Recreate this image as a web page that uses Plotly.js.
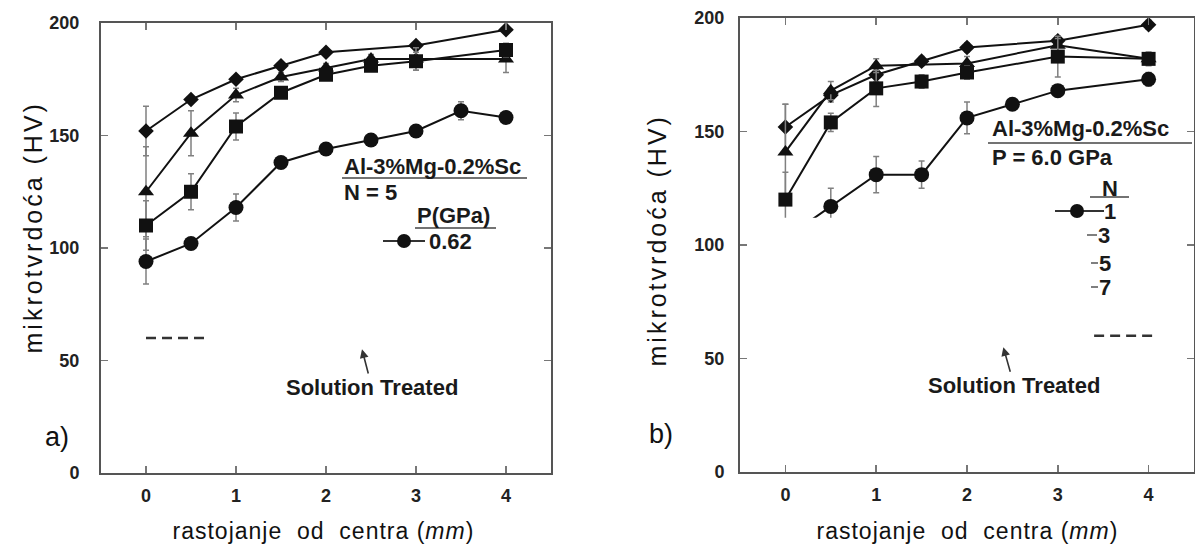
<!DOCTYPE html>
<html>
<head>
<meta charset="utf-8">
<script src="https://cdn.plot.ly/plotly-3.0.1.min.js"></script>
<style>html,body{margin:0;padding:0;background:#fff;}#chart{width:1195px;height:544px;}</style>
</head>
<body>
<div id="chart"></div>
<script>
// ---------- data: panel a) Al-3%Mg-0.2%Sc, N = 5 ----------
const aDiamondX = [0, 0.5, 1, 1.5, 2, 3, 4];
const aDiamondY = [152, 166, 175, 181, 187, 190, 197];
const aDiamondErr = [11, 0, 0, 0, 0, 0, 0];

const aTriangleX = [0, 0.5, 1, 1.5, 2, 2.5, 3, 4];
const aTriangleY = [125, 151, 168, 176, 180, 184, 184, 184];
const aTriangleErr = [20, 10, 3, 2, 2, 2, 5, 6];

const aSquareX = [0, 0.5, 1, 1.5, 2, 2.5, 3, 4];
const aSquareY = [110, 125, 154, 169, 177, 181, 183, 188];
const aSquareErr = [11, 8, 6, 2, 2, 2, 4, 3];

const aCircleX = [0, 0.5, 1, 1.5, 2, 2.5, 3, 3.5, 4];
const aCircleY = [94, 102, 118, 138, 144, 148, 152, 161, 158];
const aCircleErr = [10, 2, 6, 2, 2, 2, 2, 4, 2];

// ---------- data: panel b) Al-3%Mg-0.2%Sc, P = 6.0 GPa ----------
const bDiamondX = [0, 0.5, 1, 1.5, 2, 3, 4];
const bDiamondY = [152, 166, 175, 181, 187, 190, 197];
const bDiamondErr = [10, 3, 3, 2, 2, 2, 2];

const bTriangleX = [0, 0.5, 1, 2, 3, 4];
const bTriangleY = [141, 168, 179, 180, 188, 182];
const bTriangleErr = [21, 4, 3, 3, 3, 2];

const bSquareX = [0, 0.5, 1, 1.5, 2, 3, 4];
const bSquareY = [120, 154, 169, 172, 176, 183, 182];
const bSquareErr = [12, 4, 8, 3, 3, 9, 3];

const bCircleX = [0, 0.5, 1, 1.5, 2, 2.5, 3, 4];
const bCircleY = [103, 117, 131, 131, 156, 162, 168, 173];
const bCircleErr = [5, 8, 8, 6, 7, 2, 2, 3];

// solution treated hardness (dashed reference)
const solutionTreatedHV = 60;
const aSolutionX = [0, 0.65];
const bSolutionX = [3.4, 4.05];

// axis ticks
const xTicks = [0, 1, 2, 3, 4];
const yTicks = [0, 50, 100, 150, 200];

// ---------- helpers ----------
const W = 1195, H = 544;
const PX = v => v / W;
const PY = v => 1 - v / H;
const FONT = 'Liberation Sans, Arial, Helvetica, sans-serif';

function series(x, y, err, symbol, size, xa, ya) {
  return {
    x: x, y: y, xaxis: xa, yaxis: ya, type: 'scatter', mode: 'lines+markers',
    line: {color: '#111', width: 2},
    marker: {symbol: symbol, size: size, color: '#111', line: {width: 0}},
    error_y: {type: 'data', array: err, visible: true, color: '#808080', thickness: 1.5, width: 3},
    showlegend: false, hoverinfo: 'skip'
  };
}
function dashed(x, xa, ya) {
  return {
    x: x, y: x.map(() => solutionTreatedHV), xaxis: xa, yaxis: ya, type: 'scatter', mode: 'lines',
    line: {color: '#333', width: 2.5, dash: '10px,6px'}, showlegend: false, hoverinfo: 'skip'
  };
}

const traces = [
  series(aDiamondX, aDiamondY, aDiamondErr, 'diamond', 12, 'x', 'y'),
  series(aTriangleX, aTriangleY, aTriangleErr, 'triangle-up', 14, 'x', 'y'),
  series(aSquareX, aSquareY, aSquareErr, 'square', 14, 'x', 'y'),
  series(aCircleX, aCircleY, aCircleErr, 'circle', 15, 'x', 'y'),
  dashed(aSolutionX, 'x', 'y'),
  series(bDiamondX, bDiamondY, bDiamondErr, 'diamond', 12, 'x2', 'y2'),
  series(bTriangleX, bTriangleY, bTriangleErr, 'triangle-up', 14, 'x2', 'y2'),
  series(bSquareX, bSquareY, bSquareErr, 'square', 14, 'x2', 'y2'),
  series(bCircleX, bCircleY, bCircleErr, 'circle', 15, 'x2', 'y2'),
  dashed(bSolutionX, 'x2', 'y2')
];

function xaxisDef(domain, anchor) {
  return {
    domain: domain, anchor: anchor, range: [-0.5, 4.5], tickvals: xTicks,
    ticks: 'inside', ticklen: 7, tickwidth: 1.5, tickcolor: '#777',
    showline: true, linecolor: '#555', linewidth: 2, mirror: 'ticks',
    showgrid: false, zeroline: false, ticklabelstandoff: 5,
    tickfont: {family: FONT, size: 18, color: '#222', weight: 'bold'}
  };
}
function yaxisDef(domain, anchor, standoff) {
  return {
    domain: domain, anchor: anchor, range: [0, 200], tickvals: yTicks,
    ticks: 'inside', ticklen: 7, tickwidth: 1.5, tickcolor: '#777',
    showline: true, linecolor: '#555', linewidth: 2, mirror: 'ticks',
    showgrid: false, zeroline: false, ticklabelstandoff: standoff,
    tickfont: {family: FONT, size: 18, color: '#222', weight: 'bold'}
  };
}

function txt(text, x, y, opts) {
  return Object.assign({
    text: text, xref: 'paper', yref: 'paper', x: PX(x), y: PY(y),
    xanchor: 'left', yanchor: 'middle', showarrow: false,
    font: {family: FONT, size: 22, color: '#1a1a1a', weight: 'bold'}
  }, opts || {});
}
function hline(x0, x1, y, w, color) {
  return {type: 'line', xref: 'paper', yref: 'paper', x0: PX(x0), x1: PX(x1), y0: PY(y), y1: PY(y),
          line: {color: color || '#444', width: w || 1.5}, layer: 'above'};
}
function dot(cx, cy, r) {
  return {type: 'circle', xref: 'paper', yref: 'paper', x0: PX(cx - r), x1: PX(cx + r), y0: PY(cy + r), y1: PY(cy - r),
          fillcolor: '#111', line: {width: 0}, layer: 'above'};
}

const regular = (size) => ({family: FONT, size: size, color: '#111'});
const XTITLE = 'rastojanje\u00a0 od\u00a0 centra (<i>mm</i>)';

const annotations = [
  // axis titles (indices 0-3)
  txt('mikrotvrdoća (HV)', 33, 228, {xanchor: 'center', textangle: -90, font: regular(25)}),
  txt('mikrotvrdoća (HV)', 657, 241, {xanchor: 'center', textangle: -90, font: regular(25)}),
  txt(XTITLE, 324, 531, {xanchor: 'center', font: regular(23)}),
  txt(XTITLE, 967, 531, {xanchor: 'center', font: regular(23)}),
  // panel labels
  txt('a)', 57, 437, {xanchor: 'center', font: regular(27)}),
  txt('b)', 661, 434, {xanchor: 'center', font: regular(27)}),
  // legend a
  txt('Al-3%Mg-0.2%Sc', 342, 166),
  txt('N = 5', 342, 193),
  txt('P(GPa)', 415, 216),
  txt('0.62', 427, 241),
  // legend b
  txt('Al-3%Mg-0.2%Sc', 990, 129),
  txt('P = 6.0 GPa', 990, 157),
  txt('N', 1110, 188, {xanchor: 'center'}),
  txt('1', 1102, 211),
  txt('3', 1096, 235),
  txt('5', 1097, 263),
  txt('7', 1097, 287),
  // solution treated arrows
  {text: 'Solution Treated', xref: 'x', yref: 'y', x: 2.4, y: 55, axref: 'x', ayref: 'y', ax: 2.51, ay: 38,
   showarrow: true, arrowhead: 2, arrowsize: 1.1, arrowwidth: 1.6, arrowcolor: '#333', standoff: 0,
   font: {family: FONT, size: 22, color: '#1a1a1a', weight: 'bold'}},
  {text: 'Solution Treated', xref: 'x2', yref: 'y2', x: 2.4, y: 55, axref: 'x2', ayref: 'y2', ax: 2.52, ay: 38,
   showarrow: true, arrowhead: 2, arrowsize: 1.1, arrowwidth: 1.6, arrowcolor: '#333', standoff: 0,
   font: {family: FONT, size: 22, color: '#1a1a1a', weight: 'bold'}}
];

const shapes = [
  // white legend box in panel b (covers lower-left data, as in the original)
  {type: 'rect', xref: 'x2', yref: 'y2', x0: -0.42, x1: 0.75, y0: 3.5, y1: 112,
   fillcolor: '#fff', line: {width: 0}, layer: 'above'},
  // legend a
  hline(342, 527, 178),
  hline(415, 496, 228),
  hline(383, 425, 241, 2, '#333'),
  dot(404, 241, 7),
  // legend b
  hline(988, 1192, 143),
  hline(1090, 1129, 197),
  hline(1055, 1104, 211, 2, '#333'),
  dot(1077, 211, 7),
  hline(1087, 1097, 235, 1.5, '#555'),
  hline(1091, 1098, 263, 1.5, '#555'),
  hline(1091, 1098, 287, 1.5, '#555')
];

const layout = {
  width: W, height: H,
  margin: {l: 0, r: 0, t: 0, b: 0},
  paper_bgcolor: '#fff', plot_bgcolor: '#fff',
  showlegend: false,
  xaxis: xaxisDef([PX(101), PX(551)], 'y'),
  yaxis: yaxisDef([PY(473), PY(23)], 'x', 16),
  xaxis2: xaxisDef([PX(740), PX(1194)], 'y2'),
  yaxis2: yaxisDef([PY(472), PY(18)], 'x2', 10),
  annotations: annotations,
  shapes: shapes,
  font: {family: FONT}
};

Plotly.newPlot('chart', traces, layout, {displayModeBar: false, staticPlot: true}).then(() => {
  // slightly wider letter spacing of the axis titles, as in the original figure
  const texts = document.querySelectorAll('.annotation .annotation-text');
  if (texts[0]) texts[0].style.letterSpacing = '3px';
  if (texts[1]) texts[1].style.letterSpacing = '3px';
  if (texts[2]) texts[2].style.letterSpacing = '1px';
  if (texts[3]) texts[3].style.letterSpacing = '1px';
});
</script>
</body>
</html>
